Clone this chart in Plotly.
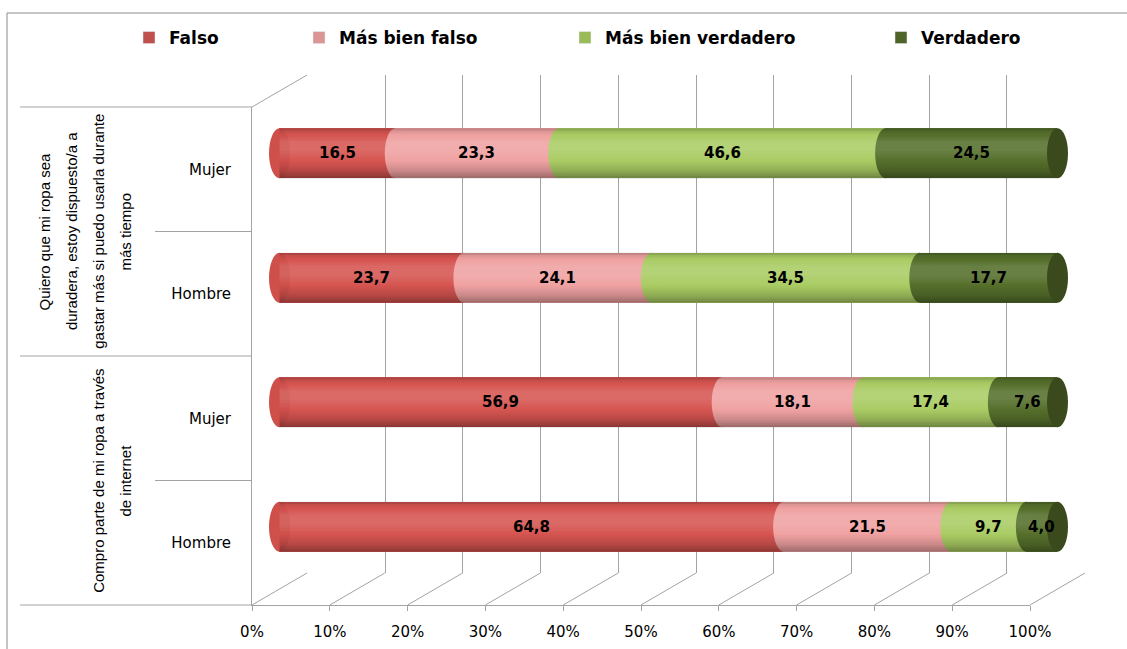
import plotly.graph_objects as go

# ---------------- data ----------------
series_names = ["Falso", "Más bien falso", "Más bien verdadero", "Verdadero"]
row_labels = ["Mujer", "Hombre", "Mujer", "Hombre"]
group_labels = [
    ["Quiero que mi ropa sea", "duradera, estoy dispuesto/a a",
     "gastar más si puedo usarla durante", "más tiempo"],
    ["Compro parte de mi ropa a través", "de internet"],
]
group_rows = [2, 2]
falso = [16.5, 23.7, 56.9, 64.8]
mas_bien_falso = [23.3, 24.1, 18.1, 21.5]
mas_bien_verdadero = [46.6, 34.5, 17.4, 9.7]
verdadero = [24.5, 17.7, 7.6, 4.0]
tick_vals = [0, 10, 20, 30, 40, 50, 60, 70, 80, 90, 100]
tick_text = ["0%", "10%", "20%", "30%", "40%", "50%", "60%", "70%", "80%", "90%", "100%"]

# ---------------- style ----------------
legend_colors = ["#c0504d", "#d99694", "#9bbb59", "#4f6228"]
bar_colors = ["#d65551", "#f0a2a2", "#aacc64", "#56702c"]
cap_color = "#cf4f4b"
face_color = "#3a4a1c"
grid_color = "#a3a3a3"
FONT = "DejaVu Sans"

W, H = 1127, 649
def px(x):
    return x / W
def py(y):
    return 1 - y / H

# 3D frame geometry (pixels)
FX0, FX1 = 252, 1030      # front plane x (0% .. 100%)
BX0, BX1 = 307, 1085      # back wall x
FY0, FY1 = 107, 605       # front plane y (top, bottom)
BY0, BY1 = 75, 573        # back wall y
MX0, MX1 = (FX0 + BX0) / 2, (FX1 + BX1) / 2
MY0, MY1 = (FY0 + BY0) / 2, (FY1 + BY1) / 2
PAD = 3
scale = (MX1 - MX0) / 100.0

series_vals = [falso, mas_bien_falso, mas_bien_verdadero, verdadero]
n_rows = len(row_labels)
rows_idx = list(range(n_rows))
BW = 0.4

fig = go.Figure()

fig.add_trace(go.Scatter(x=[None], y=[None], xaxis="x", yaxis="y",
                         showlegend=False, hoverinfo="skip"))
fig.add_trace(go.Scatter(x=[None], y=[None], xaxis="x2", yaxis="y2",
                         showlegend=False, hoverinfo="skip"))

for name, vals, col in zip(series_names, series_vals, bar_colors):
    fig.add_trace(go.Bar(
        y=rows_idx, x=vals, orientation="h", name=name,
        marker=dict(color=col, line=dict(width=0)), width=BW,
        xaxis="x3", yaxis="y3", showlegend=False,
        hovertemplate=name + ": %{x}<extra></extra>",
    ))

for k, (name, col) in enumerate(zip(series_names, legend_colors)):
    fig.add_trace(go.Bar(
        y=[None], x=[None], orientation="h", name=name,
        marker=dict(color=col), xaxis="x3", yaxis="y3",
        legend="legend" if k == 0 else "legend%d" % (k + 1),
        showlegend=True, hoverinfo="skip",
    ))

shapes = []
annotations = []

# outer border
shapes.append(dict(type="line", xref="paper", yref="paper", x0=px(7), x1=px(7),
                   y0=py(13), y1=-0.1, line=dict(color="#8c8c8c", width=1), layer="below"))
shapes.append(dict(type="line", xref="paper", yref="paper", x0=px(7), x1=1.1,
                   y0=py(13), y1=py(13), line=dict(color="#8c8c8c", width=1), layer="below"))

# floor diagonals
for t in tick_vals:
    xf = FX0 + (FX1 - FX0) * t / 100.0
    xb = BX0 + (BX1 - BX0) * t / 100.0
    shapes.append(dict(type="line", xref="paper", yref="paper", x0=px(xf), y0=py(FY1),
                       x1=px(xb), y1=py(BY1), line=dict(color=grid_color, width=1), layer="below"))
shapes.append(dict(type="line", xref="paper", yref="paper", x0=px(FX0), y0=py(FY0),
                   x1=px(BX0), y1=py(BY0), line=dict(color=grid_color, width=1), layer="below"))

# left plane category dividers
row_h = (FY1 - FY0) / n_rows
boundaries_major = [0]
for g in group_rows:
    boundaries_major.append(boundaries_major[-1] + g)
for k in range(n_rows + 1):
    yk = FY0 + k * row_h
    x_start = 20 if k in boundaries_major else 155
    shapes.append(dict(type="line", xref="paper", yref="paper", x0=px(x_start), x1=px(FX0),
                       y0=py(yk), y1=py(yk), line=dict(color=grid_color, width=1), layer="below"))

# group labels (rotated, one annotation per line)
LINE_SP = 26.7
for gi, lines in enumerate(group_labels):
    r0 = boundaries_major[gi]
    r1 = boundaries_major[gi + 1]
    yc = FY0 + (r0 + r1) / 2 * row_h
    n = len(lines)
    for li, txt in enumerate(lines):
        xc = 125 - (n - 1 - li) * LINE_SP
        annotations.append(dict(xref="paper", yref="paper", x=px(xc), y=py(yc), text=txt,
                                showarrow=False, textangle=-90, xanchor="center", yanchor="middle",
                                font=dict(family="Liberation Sans", size=15, color="black")))

# cylinder shading profile (fraction from top, brightness offset)
keys = [(0.0, -0.24), (0.07, -0.06), (0.28, 0.12), (0.45, 0.12),
        (0.65, 0.0), (0.85, -0.15), (1.0, -0.36)]
def bright(f):
    for (a, va), (b, vb) in zip(keys[:-1], keys[1:]):
        if a <= f <= b:
            return va + (vb - va) * (f - a) / (b - a)
    return 0.0
NB = 24

totals = [sum(series_vals[j][i] for j in range(4)) for i in range(n_rows)]
ew = 10.5 / scale
for i in range(n_rows):
    cum = 0.0
    starts, mids = [], []
    for j in range(4):
        p = series_vals[j][i] / totals[i] * 100.0
        starts.append(cum)
        mids.append(cum + p / 2)
        cum += p
    for j in range(4):
        shapes.append(dict(type="circle", xref="x3", yref="y3",
                           x0=starts[j] - ew, x1=starts[j] + ew,
                           y0=i - BW / 2, y1=i + BW / 2,
                           fillcolor=cap_color if j == 0 else bar_colors[j],
                           line=dict(width=0), layer="above"))
    for b in range(NB):
        f0, f1 = b / NB, (b + 1) / NB
        v = bright((f0 + f1) / 2)
        c = "rgba(255,255,255,%.3f)" % v if v > 0 else "rgba(0,0,0,%.3f)" % (-v)
        shapes.append(dict(type="rect", xref="x3", yref="y3", x0=0, x1=100,
                           y0=i - BW / 2 + BW * f0, y1=i - BW / 2 + BW * f1,
                           fillcolor=c, line=dict(width=0), layer="above"))
    shapes.append(dict(type="circle", xref="x3", yref="y3", x0=100 - ew, x1=100 + ew,
                       y0=i - BW / 2, y1=i + BW / 2,
                       fillcolor=face_color, line=dict(width=0), layer="above"))
    for j in range(4):
        v = series_vals[j][i]
        annotations.append(dict(xref="x3", yref="y3", x=mids[j], y=i,
                                text=("%.1f" % v).replace(".", ","), showarrow=False,
                                font=dict(family=FONT, size=15, color="black", weight="bold")))

legend_text_x = [169, 339, 605, 921]
legend_common = dict(orientation="h", yanchor="middle", xanchor="left",
                     bgcolor="rgba(0,0,0,0)", borderwidth=0,
                     font=dict(family=FONT, size=17, color="black", weight="bold"))
layout_legends = {}
for k, tx in enumerate(legend_text_x):
    key = "legend" if k == 0 else "legend%d" % (k + 1)
    layout_legends[key] = dict(legend_common, x=px(tx - 40), y=py(38))

fig.update_layout(
    width=W, height=H, autosize=False,
    margin=dict(l=0, r=0, t=0, b=0, pad=0, autoexpand=False),
    paper_bgcolor="white", plot_bgcolor="rgba(0,0,0,0)",
    barmode="stack", barnorm="percent",
    bargap=0,
    shapes=shapes, annotations=annotations,
    xaxis=dict(domain=[px(BX0), px(BX1)], range=[-0.05, 100.05], anchor="y",
               tickvals=tick_vals, showticklabels=False, ticks="",
               showgrid=True, gridcolor=grid_color, gridwidth=1,
               zeroline=False, showline=False, fixedrange=True, automargin=False),
    yaxis=dict(domain=[py(BY1), py(BY0)], range=[0, 1], anchor="x", visible=False,
               fixedrange=True, automargin=False),
    xaxis2=dict(domain=[px(FX0), px(FX1)], range=[0, 100], anchor="y2",
                tickmode="array", tickvals=tick_vals, ticktext=tick_text,
                ticks="outside", ticklen=5, tickcolor=grid_color, ticklabelstandoff=8,
                showline=True, linecolor=grid_color, linewidth=1,
                showgrid=False, zeroline=False, automargin=False,
                tickfont=dict(family=FONT, size=15, color="black"), fixedrange=True),
    yaxis2=dict(domain=[py(FY1), py(FY0)], range=[n_rows - 0.5, -0.5], anchor="x2",
                tickmode="array", tickvals=rows_idx, ticktext=row_labels,
                ticks="outside", ticklen=17, tickcolor="rgba(0,0,0,0)",
                showline=True, linecolor=grid_color, linewidth=1,
                showgrid=False, zeroline=False, automargin=False,
                tickfont=dict(family=FONT, size=15, color="black"), fixedrange=True),
    xaxis3=dict(domain=[px(MX0 - PAD * scale), px(MX1 + PAD * scale)],
                range=[-PAD, 100 + PAD], anchor="y3", visible=False, fixedrange=True,
                automargin=False),
    yaxis3=dict(domain=[py(MY1), py(MY0)], range=[n_rows - 0.5, -0.5], anchor="x3",
                visible=False, fixedrange=True, automargin=False),
    **layout_legends,
)

post = ("document.documentElement.style.margin='0';document.body.style.margin='0';"
        "document.body.style.padding='0';document.body.style.overflow='hidden';"
        "document.documentElement.style.overflow='hidden';"
        "var gd=document.getElementById('{plot_id}');"
        "Plotly.relayout(gd,{width:%d,height:%d});" % (W, H))

fig.write_html("out.html", post_script=post, config={"displayModeBar": False})
